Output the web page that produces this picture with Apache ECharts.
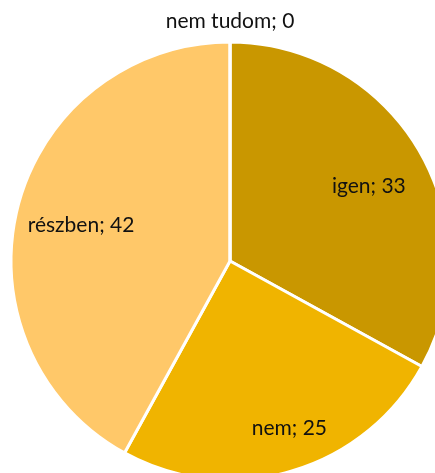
<!DOCTYPE html>
<html>
<head>
<meta charset="utf-8">
<script src="https://cdn.jsdelivr.net/npm/echarts@6/dist/echarts.min.js"></script>
<style>html,body{margin:0;padding:0;background:#fff;}#c{width:435px;height:473px;}</style>
</head>
<body>
<div id="c"></div>
<script>
var categories = ['igen', 'nem', 'részben', 'nem tudom'];
var values = [33, 25, 42, 0];
var colors = ['#C99700', '#F0B400', '#FFC869', '#A0A0A0'];
var labelOffsets = [[42, -17], [28, 59], [-40, -8], [0, -127]];

var chart = echarts.init(document.getElementById('c'), null, {renderer: 'canvas'});
chart.setOption({
  animation: false,
  series: [{
    type: 'pie',
    center: [230, 261],
    radius: [0, 219],
    startAngle: 90,
    clockwise: true,
    minShowLabelAngle: 0,
    stillShowZeroSum: true,
    avoidLabelOverlap: false,
    itemStyle: {borderColor: '#fff', borderWidth: 3},
    label: {
      show: true,
      position: 'inside',
      fontFamily: 'Lato',
      fontSize: 21,
      color: '#111',
      formatter: function (p) { return p.name + '; ' + p.value; }
    },
    labelLine: {show: false},
    emphasis: {disabled: true},
    data: categories.map(function (c, i) {
      return {
        name: c,
        value: values[i],
        itemStyle: {color: colors[i]},
        label: {offset: labelOffsets[i]}
      };
    })
  }]
});
</script>
</body>
</html>
